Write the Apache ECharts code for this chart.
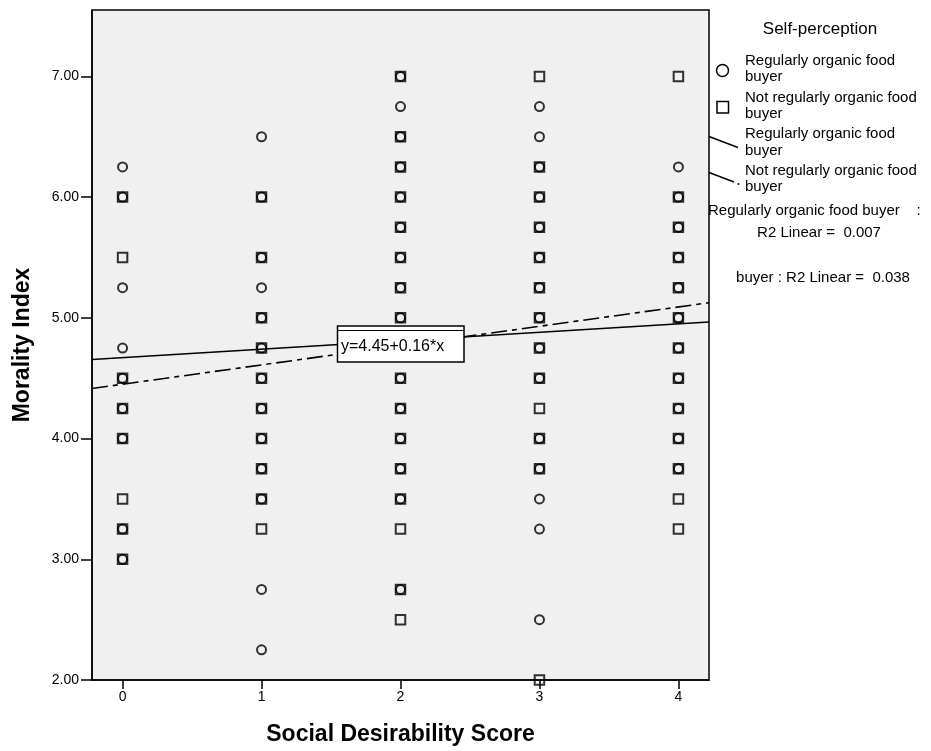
<!DOCTYPE html>
<html>
<head>
<meta charset="utf-8">
<script src="https://cdn.jsdelivr.net/npm/echarts@6/dist/echarts.min.js"></script>
<style>
  html, body { margin: 0; padding: 0; background: #ffffff; }
  #chart { width: 931px; height: 751px; }
</style>
</head>
<body>
<div id="chart"></div>
<script>
// Social Desirability Score (x) against Morality Index (y), split by self-perception.
const scoreTicks = [0, 1, 2, 3, 4];
const moralityTicks = [2, 3, 4, 5, 6, 7];

// Morality Index values observed at each score, regularly organic food buyers
const regularByScore = [
  [6.25, 6.00, 5.25, 4.75, 4.50, 4.25, 4.00, 3.25, 3.00],
  [6.50, 6.00, 5.50, 5.25, 5.00, 4.75, 4.50, 4.25, 4.00, 3.75, 3.50, 2.75, 2.25],
  [7.00, 6.75, 6.50, 6.25, 6.00, 5.75, 5.50, 5.25, 5.00, 4.75, 4.50, 4.25, 4.00, 3.75, 3.50, 2.75],
  [6.75, 6.50, 6.25, 6.00, 5.75, 5.50, 5.25, 5.00, 4.75, 4.50, 4.00, 3.75, 3.50, 3.25, 2.50],
  [6.25, 6.00, 5.75, 5.50, 5.25, 5.00, 4.75, 4.50, 4.25, 4.00, 3.75]
];

// Morality Index values observed at each score, not regularly organic food buyers
const notRegularByScore = [
  [6.00, 5.50, 4.50, 4.25, 4.00, 3.50, 3.25, 3.00],
  [6.00, 5.50, 5.00, 4.75, 4.50, 4.25, 4.00, 3.75, 3.50, 3.25],
  [7.00, 6.50, 6.25, 6.00, 5.75, 5.50, 5.25, 5.00, 4.75, 4.50, 4.25, 4.00, 3.75, 3.50, 3.25, 2.75, 2.50],
  [7.00, 6.25, 6.00, 5.75, 5.50, 5.25, 5.00, 4.75, 4.50, 4.25, 4.00, 3.75, 2.00],
  [7.00, 6.00, 5.75, 5.50, 5.25, 5.00, 4.75, 4.50, 4.25, 4.00, 3.75, 3.50, 3.25]
];

// Linear fits: intercept and slope per group
const fitGroups = ['Regularly organic food buyer', 'Not regularly organic food buyer'];
const fitIntercepts = [4.67, 4.45];
const fitSlopes = [0.07, 0.16];
const fitR2 = ['0.007', '0.038'];
const fitEquationLabel = 'y=4.45+0.16*x';

const xRange = [-0.22, 4.22];
const yRange = [2, 7.55];

const FONT = "'Liberation Sans', Arial, Helvetica, sans-serif";

function toPoints(byScore) {
  const pts = [];
  byScore.forEach((vals, i) => vals.forEach(v => pts.push([scoreTicks[i], v])));
  return pts;
}

function fitLine(k) {
  return xRange.map(x => [x, fitIntercepts[k] + fitSlopes[k] * x]);
}

const chart = echarts.init(document.getElementById('chart'), null, { renderer: 'canvas' });

const markerStyle = { color: 'rgba(0,0,0,0)', borderColor: '#000', borderWidth: 2 };

chart.setOption({
  animation: false,
  backgroundColor: '#ffffff',
  grid: {
    left: 92, top: 10, right: 222, bottom: 70,
    show: true, backgroundColor: '#f0f0f0', borderColor: '#000', borderWidth: 1.5
  },
  xAxis: {
    type: 'value', min: xRange[0], max: xRange[1],
    name: 'Social Desirability Score', nameLocation: 'middle', nameGap: 43,
    nameTextStyle: { fontFamily: FONT, fontSize: 23, fontWeight: 'bold', color: '#000' },
    axisLine: { show: true, onZero: false, lineStyle: { color: '#000', width: 1.5 } },
    axisTick: { show: true, length: 9, customValues: scoreTicks, lineStyle: { color: '#000', width: 1.5 } },
    axisLabel: { customValues: scoreTicks, margin: 10, fontFamily: FONT, fontSize: 14, color: '#000' },
    splitLine: { show: false }
  },
  yAxis: {
    type: 'value', min: yRange[0], max: yRange[1],
    name: 'Morality Index', nameLocation: 'middle', nameGap: 58,
    nameTextStyle: { fontFamily: FONT, fontSize: 23, fontWeight: 'bold', color: '#000' },
    axisLine: { show: true, onZero: false, lineStyle: { color: '#000', width: 1.5 } },
    axisTick: { show: true, length: 11, customValues: moralityTicks, lineStyle: { color: '#000', width: 1.5 } },
    axisLabel: {
      customValues: moralityTicks, margin: 13, fontFamily: FONT, fontSize: 14, color: '#000',
      formatter: v => v.toFixed(2)
    },
    splitLine: { show: false }
  },
  series: [
    {
      name: fitGroups[0], type: 'scatter', symbol: 'circle', symbolSize: 9,
      clip: false, itemStyle: markerStyle, data: toPoints(regularByScore), z: 3
    },
    {
      name: fitGroups[1], type: 'scatter', symbol: 'rect', symbolSize: 9.5,
      clip: false, itemStyle: markerStyle, data: toPoints(notRegularByScore), z: 3
    },
    {
      name: fitGroups[0] + ' fit', type: 'line', data: fitLine(0), symbol: 'none',
      lineStyle: { color: '#000', width: 1.6, type: 'solid' }, z: 4
    },
    {
      name: fitGroups[1] + ' fit', type: 'line', data: fitLine(1), symbol: 'none',
      lineStyle: { color: '#000', width: 1.6, type: [16, 5, 5, 5] }, z: 4
    }
  ],
  graphic: [
    // equation box for the not-regularly fit
    { type: 'rect', z: 10, shape: { x: 337.5, y: 326, width: 126.5, height: 36 },
      style: { fill: '#fff', stroke: '#000', lineWidth: 1.5 } },
    { type: 'line', z: 11, shape: { x1: 337.5, y1: 330.5, x2: 464, y2: 330.5 },
      style: { stroke: '#000', lineWidth: 1 } },
    { type: 'text', z: 11, style: { text: fitEquationLabel, x: 341, y: 346.5, font: '16px ' + FONT,
      fill: '#000', textAlign: 'left', textVerticalAlign: 'middle' } },

    // legend
    { type: 'text', style: { text: 'Self-perception', x: 820, y: 29.5, font: '17px ' + FONT,
      fill: '#000', textAlign: 'center', textVerticalAlign: 'middle' } },

    { type: 'circle', shape: { cx: 722.5, cy: 70.5, r: 6 },
      style: { fill: 'none', stroke: '#000', lineWidth: 1.5 } },
    { type: 'text', style: { text: 'Regularly organic food', x: 745, y: 61, font: '15px ' + FONT,
      fill: '#000', textAlign: 'left', textVerticalAlign: 'middle' } },
    { type: 'text', style: { text: 'buyer', x: 745, y: 77, font: '15px ' + FONT,
      fill: '#000', textAlign: 'left', textVerticalAlign: 'middle' } },

    { type: 'rect', shape: { x: 717, y: 101.5, width: 11.5, height: 11.5 },
      style: { fill: 'none', stroke: '#000', lineWidth: 1.5 } },
    { type: 'text', style: { text: 'Not regularly organic food', x: 745, y: 97.5, font: '15px ' + FONT,
      fill: '#000', textAlign: 'left', textVerticalAlign: 'middle' } },
    { type: 'text', style: { text: 'buyer', x: 745, y: 113.5, font: '15px ' + FONT,
      fill: '#000', textAlign: 'left', textVerticalAlign: 'middle' } },

    { type: 'line', shape: { x1: 709, y1: 136.5, x2: 738, y2: 147.5 },
      style: { stroke: '#000', lineWidth: 1.5 } },
    { type: 'text', style: { text: 'Regularly organic food', x: 745, y: 134, font: '15px ' + FONT,
      fill: '#000', textAlign: 'left', textVerticalAlign: 'middle' } },
    { type: 'text', style: { text: 'buyer', x: 745, y: 150.5, font: '15px ' + FONT,
      fill: '#000', textAlign: 'left', textVerticalAlign: 'middle' } },

    { type: 'line', shape: { x1: 709, y1: 172.5, x2: 734, y2: 182 },
      style: { stroke: '#000', lineWidth: 1.5 } },
    { type: 'circle', shape: { cx: 738.5, cy: 184, r: 1 }, style: { fill: '#000' } },
    { type: 'text', style: { text: 'Not regularly organic food', x: 745, y: 170.5, font: '15px ' + FONT,
      fill: '#000', textAlign: 'left', textVerticalAlign: 'middle' } },
    { type: 'text', style: { text: 'buyer', x: 745, y: 187, font: '15px ' + FONT,
      fill: '#000', textAlign: 'left', textVerticalAlign: 'middle' } },

    // R² notes for the fits
    { type: 'text', style: { text: fitGroups[0] + '    :', x: 708, y: 211, font: '15px ' + FONT,
      fill: '#000', textAlign: 'left', textVerticalAlign: 'middle' } },
    { type: 'text', style: { text: 'R2 Linear =  ' + fitR2[0], x: 819, y: 233, font: '15px ' + FONT,
      fill: '#000', textAlign: 'center', textVerticalAlign: 'middle' } },
    { type: 'text', style: { text: 'buyer : R2 Linear =  ' + fitR2[1], x: 823, y: 278, font: '15px ' + FONT,
      fill: '#000', textAlign: 'center', textVerticalAlign: 'middle' } }
  ]
});
</script>
</body>
</html>
